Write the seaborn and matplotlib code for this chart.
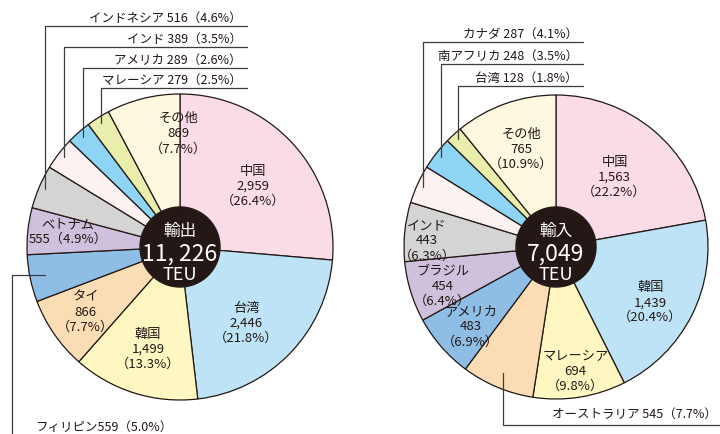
import numpy as np
import matplotlib.pyplot as plt
import seaborn as sns

sns.set_theme(style='white')
plt.rcParams['font.family'] = ['Noto Sans CJK JP', 'DejaVu Sans']

# 輸出 (left pie)
exp_names = ['中国', '台湾', '韓国', 'タイ', 'フィリピン', 'ベトナム',
             'インドネシア', 'インド', 'アメリカ', 'マレーシア', 'その他']
exp_teu = [2959, 2446, 1499, 866, 559, 555, 516, 389, 289, 279, 869]
exp_pct = [26.4, 21.8, 13.3, 7.7, 5.0, 4.9, 4.6, 3.5, 2.6, 2.5, 7.7]
exp_total = '11, 226'

# 輸入 (right pie)
imp_names = ['中国', '韓国', 'マレーシア', 'オーストラリア', 'アメリカ', 'ブラジル',
             'インド', 'カナダ', '南アフリカ', '台湾', 'その他']
imp_teu = [1563, 1439, 694, 545, 483, 454, 443, 287, 248, 128, 765]
imp_pct = [22.2, 20.4, 9.8, 7.7, 6.9, 6.4, 6.3, 4.1, 3.5, 1.8, 10.9]
imp_total = '7,049'

palette = ['#FADCE9', '#BEE3F7', '#FFF7C1', '#FADDB4', '#8EBEE6', '#CFC0DD',
           '#D4D4D4', '#FDF2F2', '#8ED4F4', '#E9EEAC', '#FEF8E1']
edge = '#231815'
lead = '#3c3c3c'

W, H = 720, 434
fig = plt.figure(figsize=(W / 100, H / 100), dpi=100)
ax = fig.add_axes([0, 0, 1, 1])


def Y(y):  # pixel row -> data y
    return H - y


def mid_angles(vals):
    v = np.array(vals, dtype=float)
    c = np.cumsum(v) / v.sum() * 360
    start = np.concatenate([[0], c[:-1]])
    return 90 - (start + c) / 2


def pt(cx, cy, r, ang):
    a = np.deg2rad(ang)
    return cx + r * np.cos(a), cy + r * np.sin(a)


def draw_pie(cx, cy, R, vals):
    ax.pie(vals, colors=palette, startangle=90, counterclock=False,
           center=(cx, Y(cy)), radius=R,
           wedgeprops=dict(edgecolor=edge, linewidth=0.9))


def center_disc(cx, cy, word, total):
    ax.add_patch(plt.Circle((cx, Y(cy)), 40, color=edge, zorder=5))
    ax.text(cx, Y(cy - 16), word, color='white', fontsize=12, ha='center', va='center', zorder=6)
    ax.text(cx, Y(cy + 7), total, color='white', fontsize=16.5, ha='center', va='center', zorder=6)
    ax.text(cx, Y(cy + 28), 'TEU', color='white', fontsize=13, ha='center', va='center', zorder=6)


def inside(cx, cy, R, ang, r, txt):
    x, y = pt(cx, Y(cy), R * r, ang)
    ax.text(x, y, txt, fontsize=9.5, ha='center', va='center', color='#231815',
            linespacing=1.2, zorder=4)


def top_leader(cx, cy, R, ang, line_y, x_end, txt):
    x, y = pt(cx, Y(cy), R * 0.96, ang)
    ax.plot([x, x, x_end], [y, Y(line_y), Y(line_y)], color=lead, lw=0.9, zorder=4)
    ax.text(x_end - 5, Y(line_y - 8), txt, fontsize=9, ha='right', va='center', color='#231815')


# ---- left pie
lcx, lcy, lR = 180, 247, 153
draw_pie(lcx, lcy, lR, exp_teu)
la = mid_angles(exp_teu)
shift = {0: -3, 1: -5, 5: -1.5, 10: -13}
radius = {0: 0.62, 1: 0.66, 2: 0.7, 3: 0.75, 5: 0.74, 10: 0.74}
for i, r in radius.items():
    if i == 5:
        txt = f'{exp_names[i]}\n{exp_teu[i]:,}（{exp_pct[i]}%）'
    else:
        txt = f'{exp_names[i]}\n{exp_teu[i]:,}\n（{exp_pct[i]}%）'
    inside(lcx, lcy, lR, la[i] + shift.get(i, 0), r, txt)

for i, ly in zip([6, 7, 8, 9], [26, 47, 68, 88]):
    top_leader(lcx, lcy, lR, la[i], ly, 247, f'{exp_names[i]} {exp_teu[i]}（{exp_pct[i]}%）')

# フィリピン leader to bottom left
x, y = pt(lcx, Y(lcy), lR * 0.9, la[4])
ax.plot([x, 12, 12], [y, y, Y(H + 2)], color=lead, lw=0.9, zorder=4)
ax.text(35, Y(427), f'{exp_names[4]}{exp_teu[4]}（{exp_pct[4]}%）', fontsize=9,
        ha='left', va='center', color='#231815')
center_disc(lcx, lcy, '輸出', exp_total)

# ---- right pie
rcx, rcy, rR = 556, 247, 152
draw_pie(rcx, rcy, rR, imp_teu)
ra = mid_angles(imp_teu)
shift = {1: -4, 6: 3, 4: 2, 5: 2}
radius = {0: 0.6, 1: 0.72, 2: 0.83, 4: 0.77, 5: 0.79, 6: 0.85, 10: 0.68}
for i, r in radius.items():
    txt = f'{imp_names[i]}\n{imp_teu[i]:,}\n（{imp_pct[i]}%）'
    inside(rcx, rcy, rR, ra[i] + shift.get(i, 0), r, txt)

for i, ly in zip([7, 8, 9], [42, 64, 86]):
    top_leader(rcx, rcy, rR, ra[i], ly, 583, f'{imp_names[i]} {imp_teu[i]}（{imp_pct[i]}%）')

# オーストラリア leader to bottom right
x, y = pt(rcx, Y(rcy), rR * 0.9, ra[3])
ax.plot([x, x, W + 2], [y, Y(425), Y(425)], color=lead, lw=0.9, zorder=4)
ax.text(717, Y(414), f'{imp_names[3]} {imp_teu[3]}（{imp_pct[3]}%）', fontsize=9,
        ha='right', va='center', color='#231815')
center_disc(rcx, rcy, '輸入', imp_total)

ax.set_xlim(0, W)
ax.set_ylim(0, H)
ax.set_aspect('equal')
ax.axis('off')
fig.savefig('out.png', dpi=100, facecolor='white')
